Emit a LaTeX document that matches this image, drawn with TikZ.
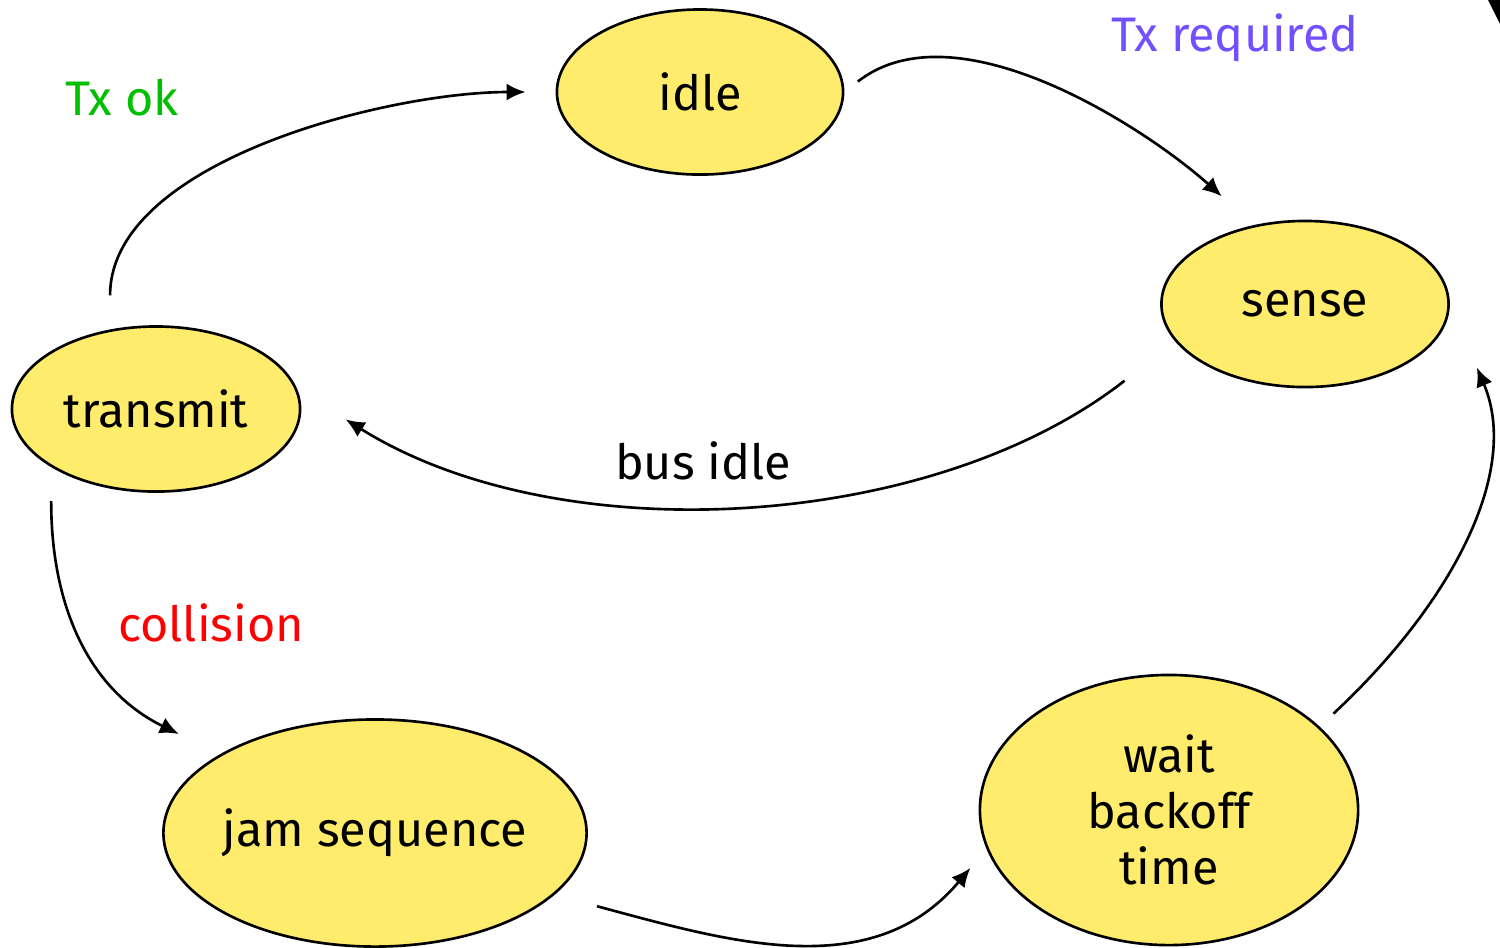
\documentclass[tikz,border=0pt]{standalone}
\usepackage{fontspec}
\setmainfont{Fira Sans}
\usetikzlibrary{arrows.meta}
\usetikzlibrary{shapes.geometric}
\definecolor{stateyellow}{RGB}{255,236,108}
\definecolor{okgreen}{RGB}{0,190,0}
\definecolor{reqpurple}{RGB}{115,80,255}
\definecolor{colred}{RGB}{255,0,0}

\begin{document}
\begin{tikzpicture}[x=0.01cm,y=-0.01cm,line width=0.75pt,>={Latex[length=0.19cm,width=0.17cm]}]
    \tikzstyle{every node}=[font=\fontsize{13.8}{16}\selectfont];
    \tikzstyle{state}=[draw,ellipse,fill=stateyellow,inner sep=0pt,align=center];
    \useasboundingbox (0,0) rectangle (1500,947);

    \node[state,minimum width=2.86cm,minimum height=1.65cm] (idle) at (700,92) {idle};
    \node[state,minimum width=2.87cm,minimum height=1.66cm] (sense) at (1305,304) {sense};
    \node[state,minimum width=2.88cm,minimum height=1.65cm] (transmit) at (156,409) {transmit};
    \node[state,inner xsep=-0.06cm,minimum width=4.23cm,minimum height=2.27cm] (jam) at (375,833) {jam sequence};
    \node[state,minimum width=3.78cm,minimum height=2.70cm] (wait) at (1169,810) {wait\\backoff\\time};

    \node[text=okgreen] (txok) at (122,98) {Tx ok};
    \node[text=reqpurple] (txreq) at (1235,38) {Tx required};
    \node (busidle) at (703,461) {bus idle};
    \node[text=colred] (coll) at (211,623) {collision};

    \draw[->,shorten <=0.34cm,shorten >=0.3cm] (transmit.120) to[out=90,in=180,looseness=0.85] (idle.west);
    \draw[->,shorten <=0.17cm,shorten >=0.43cm] (idle.east) to[out=38,in=138,looseness=0.85] (sense.123);
    \draw[->,shorten <=0.64cm,shorten >=0.57cm] (sense.196) to[out=218,in=-32,looseness=0.9] (transmit.8);
    \draw[->,shorten <=0.34cm,shorten >=0.46cm] (transmit.209) to[out=-90,in=154,looseness=1.1] (jam.153);
    \draw[->,shorten <=0.44cm,shorten >=0.25cm] (jam.-19) to[out=-15,in=230,looseness=1.05] (wait.192);
    \draw[->,shorten <=0.19cm,shorten >=0.69cm] (wait.29) to[out=43,in=-67,looseness=1.05] (sense.east);

    \fill (1488,0) -- (1500,0) -- (1500,24) -- cycle;
\end{tikzpicture}
\end{document}
